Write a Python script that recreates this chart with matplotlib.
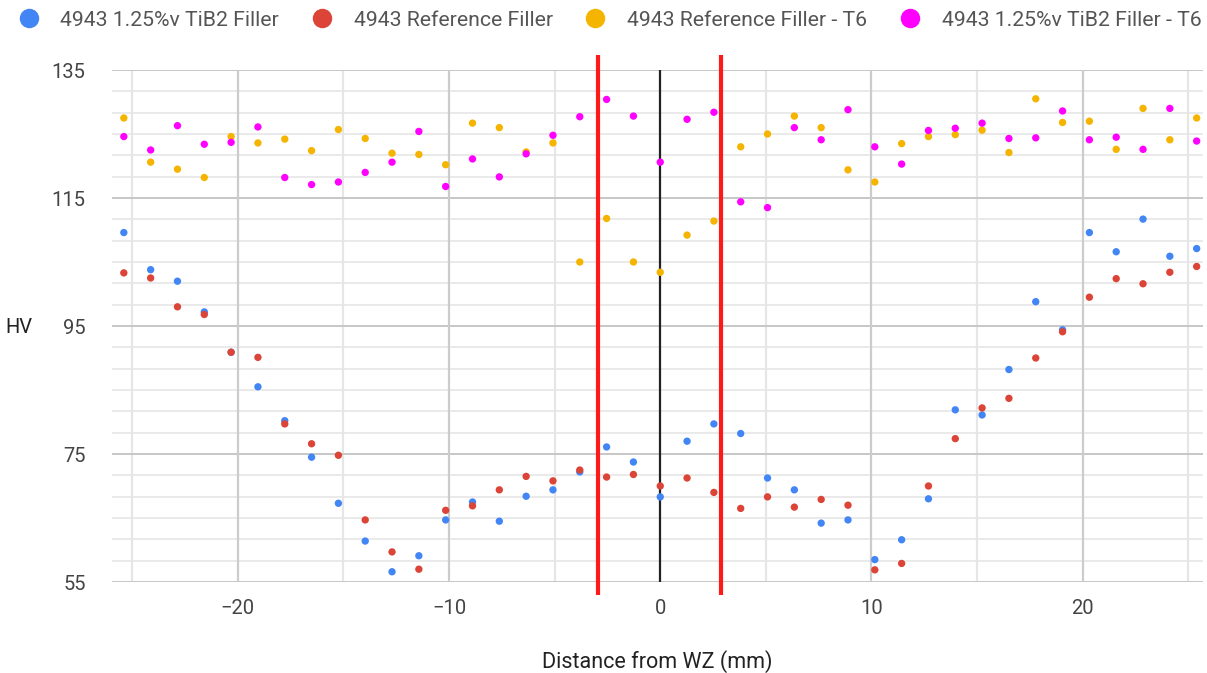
import matplotlib.pyplot as plt
from matplotlib.lines import Line2D

plt.rcParams['font.family'] = ['Roboto', 'DejaVu Sans']

# measurement positions across the weld (mm)
distance = [-25.4, -24.13, -22.86, -21.59, -20.32, -19.05, -17.78, -16.51, -15.24,
            -13.97, -12.7, -11.43, -10.16, -8.89, -7.62, -6.35, -5.08, -3.81, -2.54,
            -1.27, 0.0, 1.27, 2.54, 3.81, 5.08, 6.35, 7.62, 8.89, 10.16, 11.43, 12.7,
            13.97, 15.24, 16.51, 17.78, 19.05, 20.32, 21.59, 22.86, 24.13, 25.4]

tib2_filler = [109.6, 103.8, 102.0, 97.2, 90.9, 85.5, 80.2, 74.5, 67.3, 61.4, 56.6,
               59.1, 64.7, 67.5, 64.5, 68.4, 69.4, 72.2, 76.1, 73.75, 68.3,
               77.0, 79.7, 78.2, 71.25, 69.4, 64.2, 64.7, 58.5, 61.6, 68.0,
               81.9, 81.1, 88.2, 98.8, 94.4, 109.6, 106.6, 111.7, 105.9, 107.1]

ref_filler = [103.3, 102.5, 98.0, 96.8, 90.9, 90.1, 79.7, 76.6, 74.8, 64.7, 59.7,
              57.0, 66.2, 66.9, 69.4, 71.5, 70.8, 72.5, 71.4, 71.8, 70.0,
              71.25, 69.0, 66.5, 68.3, 66.7, 67.9, 67.0, 56.9, 57.9, 70.0,
              77.4, 82.2, 83.7, 90.0, 94.1, 99.5, 102.4, 101.6, 103.4, 104.3]

ref_filler_t6 = [127.5, 120.6, 119.5, 118.2, 124.6, 123.6, 124.2, 122.4, 125.7, 124.3, 122.0,
                 121.8, 120.2, 126.7, 126.0, 122.2, 123.6, 105.0, 111.8, 105.0, 103.4,
                 109.2, 111.4, 123.0, 125.0, 127.8, 126.0, 119.4, 117.5, 123.5, 124.6,
                 124.9, 125.6, 122.1, 130.5, 126.8, 127.0, 122.6, 129.0, 124.1, 127.5]

tib2_filler_t6 = [124.6, 122.5, 126.3, 123.4, 123.7, 126.1, 118.2, 117.1, 117.5, 119.0, 120.6,
                  125.4, 116.8, 121.1, 118.3, 121.9, 124.8, 127.7, 130.4, 127.8, 120.6,
                  127.3, 128.4, 114.4, 113.5, 126.0, 124.1, 128.8, 123.0, 120.3, 125.55,
                  125.9, 126.7, 124.3, 124.4, 128.6, 124.1, 124.5, 122.6, 129.0, 123.9]

series_names = ['4943 1.25%v TiB2 Filler', '4943 Reference Filler',
                '4943 Reference Filler - T6', '4943 1.25%v TiB2 Filler - T6']
series_values = [tib2_filler, ref_filler, ref_filler_t6, tib2_filler_t6]
colors = ['#4285F4', '#DB4437', '#F4B400', '#FF00FF']

# weld zone boundaries (mm)
wz_edges = [-2.95, 2.9]

fig = plt.figure(figsize=(12.07, 6.73), dpi=100)
ax = fig.add_axes([112 / 1207, 91 / 673, 1091 / 1207, 512 / 673])

ax.set_xlim(-25.96, 25.7)
ax.set_ylim(55, 135)

# grid: minor lines first, then major
for y in [55 + i * 20 / 6 for i in range(25)]:
    ax.axhline(y, color='#e6e6e6', lw=1.2, zorder=0)
for y in [55, 75, 95, 115, 135]:
    ax.axhline(y, color='#c8c8c8', lw=1.4, zorder=0.5)
for x in [-25, -15, -5, 5, 15, 25]:
    ax.axvline(x, color='#e6e6e6', lw=1.6, zorder=0)
for x in [-20, -10, 10, 20]:
    ax.axvline(x, color='#cccccc', lw=1.6, zorder=0.5)
ax.axvline(0, color='#222222', lw=1.6, zorder=1)

for vals, c in zip(series_values, colors):
    ax.scatter(distance, vals, s=28, color=c, edgecolors='none', zorder=3)

for x in wz_edges:
    ax.plot([x, x], [137.4, 53.0], color='#ff1a1a', lw=3, zorder=4,
            clip_on=False, solid_capstyle='butt')

for s in ax.spines.values():
    s.set_visible(False)

ax.set_xticks([-20, -10, 0, 10, 20])
ax.set_yticks([55, 75, 95, 115, 135])
ax.tick_params(length=0, labelsize=14.5, colors='#444444')
ax.tick_params(axis='x', pad=12)
ax.tick_params(axis='y', pad=19)

ax.set_xlabel('Distance from WZ (mm)', fontsize=15.5, color='#222222', labelpad=23)
fig.text(19 / 1207, 1 - 327 / 673, 'HV', fontsize=14.5, color='#222222',
         ha='center', va='center')

handles = [Line2D([], [], marker='o', ls='none', ms=14, color=c, mec='none')
           for c in colors]
fig.legend(handles, series_names, loc='center left', bbox_to_anchor=(18 / 1207, 1 - 20 / 673),
           ncol=4, frameon=False, fontsize=15.3, labelcolor='#555555',
           handletextpad=1.0, columnspacing=1.5, handlelength=1.0,
           borderaxespad=0, borderpad=0)

fig.savefig('out.png', dpi=100)
